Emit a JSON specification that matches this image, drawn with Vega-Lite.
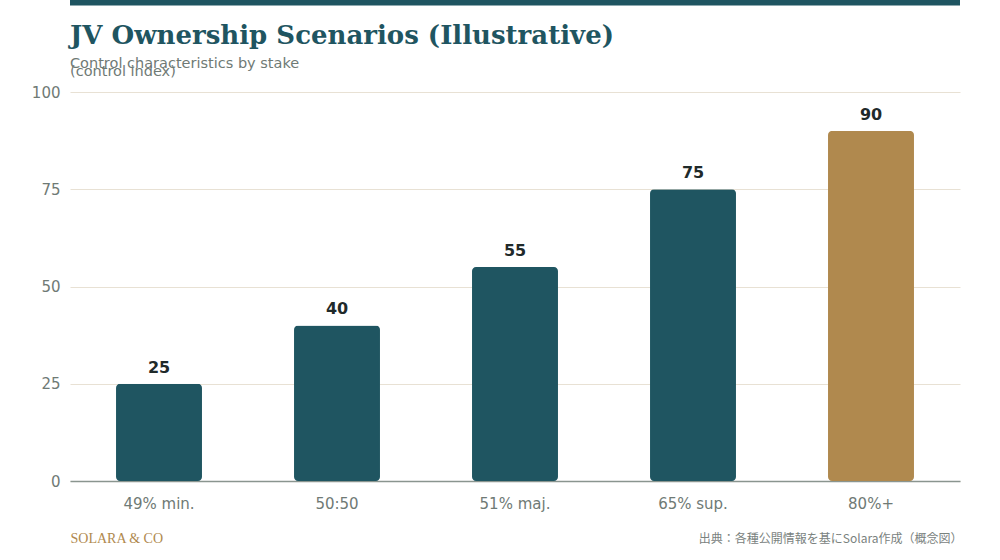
{
  "$schema": "https://vega.github.io/schema/vega-lite/v6.json",
  "width": 890,
  "height": 389,
  "autosize": {"type": "none"},
  "padding": {"left": 70, "top": 92, "right": 40, "bottom": 79},
  "background": "#ffffff",
  "title": {
    "text": "JV Ownership Scenarios (Illustrative)",
    "subtitle": ["Control characteristics by stake", "(control index)"],
    "anchor": "start",
    "frame": "group",
    "font": "DejaVu Serif",
    "fontSize": 26,
    "fontWeight": "bold",
    "color": "#1f5561",
    "subtitleFont": "DejaVu Sans",
    "subtitleFontSize": 14.5,
    "subtitleColor": "#6f7a75",
    "subtitleLineHeight": 8,
    "subtitlePadding": 8,
    "offset": -79
  },
  "data": {
    "values": [
      {"stake": "49% min.", "control": 25, "highlight": false},
      {"stake": "50:50", "control": 40, "highlight": false},
      {"stake": "51% maj.", "control": 55, "highlight": false},
      {"stake": "65% sup.", "control": 75, "highlight": false},
      {"stake": "80%+", "control": 90, "highlight": true}
    ]
  },
  "encoding": {
    "x": {
      "field": "stake",
      "type": "nominal",
      "sort": null,
      "scale": {"paddingInner": 0.517},
      "axis": {
        "title": "出典：各種公開情報を基にSolara作成（概念図）",
        "titleFont": "Noto Sans CJK JP",
        "titleFontSize": 12,
        "titleFontWeight": "normal",
        "titleColor": "#7a827e",
        "titleAnchor": "end",
        "titleAlign": "right",
        "titleBaseline": "middle",
        "titleX": 892,
        "titleY": 57,
        "labelAngle": 0,
        "labelFont": "DejaVu Sans",
        "labelFontSize": 15,
        "labelColor": "#6f7a75",
        "labelPadding": 15,
        "ticks": false,
        "domainColor": "#8a958f",
        "domainWidth": 1.5
      }
    },
    "y": {
      "field": "control",
      "type": "quantitative",
      "scale": {"domain": [0, 100]},
      "axis": {
        "values": [0, 25, 50, 75, 100],
        "title": "SOLARA & CO",
        "titleFont": "Liberation Serif",
        "titleFontSize": 14,
        "titleFontWeight": "normal",
        "titleColor": "#b0894e",
        "titleAngle": 0,
        "titleAlign": "left",
        "titleBaseline": "middle",
        "titleX": 0,
        "titleY": 446,
        "labelFont": "DejaVu Sans",
        "labelFontSize": 15,
        "labelColor": "#6f7a75",
        "labelPadding": 10,
        "ticks": false,
        "domain": false,
        "gridColor": "#e8e1d4",
        "gridWidth": 1
      }
    }
  },
  "layer": [
    {
      "mark": {"type": "bar", "cornerRadius": 4},
      "encoding": {
        "color": {
          "field": "highlight",
          "type": "nominal",
          "scale": {"domain": [false, true], "range": ["#1f5561", "#b0894e"]},
          "legend": null
        }
      }
    },
    {
      "mark": {
        "type": "text",
        "baseline": "alphabetic",
        "dy": -11,
        "font": "DejaVu Sans",
        "fontSize": 16,
        "fontWeight": "bold",
        "color": "#1f2a2a"
      },
      "encoding": {"text": {"field": "control", "type": "quantitative"}}
    },
    {
      "data": {"values": [{"band": 123}]},
      "mark": {"type": "rule", "color": "#1f5561", "strokeWidth": 6, "clip": false},
      "encoding": {
        "x": null,
        "y": {"field": "band", "type": "quantitative"}
      }
    }
  ],
  "config": {"view": {"stroke": null}}
}
